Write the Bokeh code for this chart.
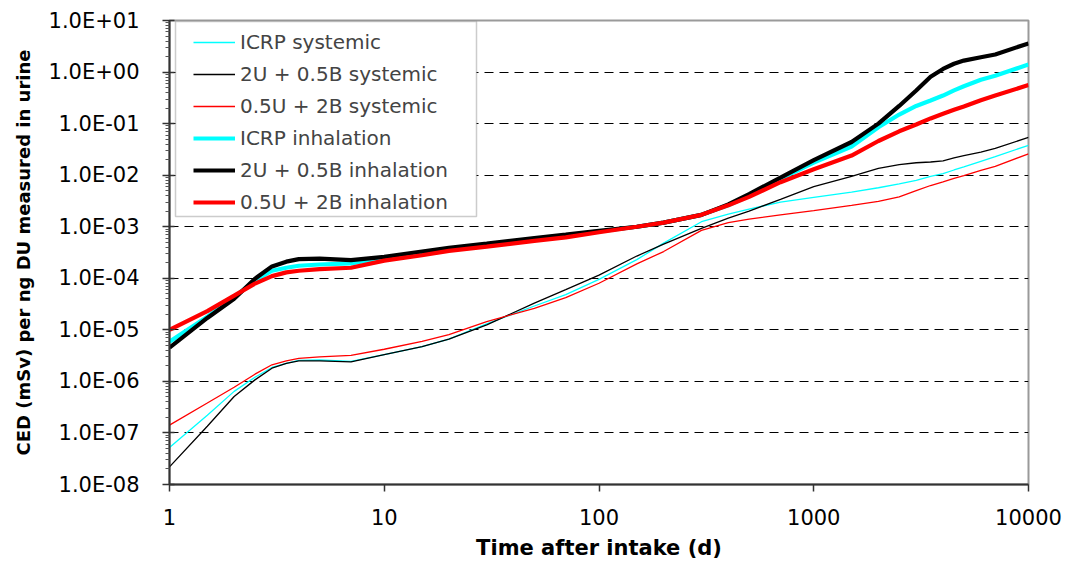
from bokeh.plotting import figure
from bokeh.models import Range1d, FixedTicker, CustomJSTickFormatter, Legend, LegendItem, BoxAnnotation
from bokeh.embed import file_html
from bokeh.resources import INLINE

days = [1, 1.5, 2, 2.5, 3, 3.5, 4, 5, 7, 10, 15, 20, 30, 50, 70, 100, 150, 200, 300, 400,
        500, 700, 1000, 1500, 2000, 2500, 3000, 3500, 4000, 4500, 5000, 6000, 7000, 10000]

icrp_systemic = [5.2e-8, 2.2e-7, 6.4e-7, 1.2e-6, 1.86e-6, 2.24e-6, 2.55e-6, 2.6e-6, 2.45e-6, 3.3e-6,
                 4.7e-6, 6.6e-6, 1.3e-5, 2.9e-5, 4.8e-5, 9.5e-5, 2.3e-4, 4.8e-4, 1.25e-3, 1.75e-3,
                 2.2e-3, 3.0e-3, 3.7e-3, 4.7e-3, 5.7e-3, 6.8e-3, 7.9e-3, 9.5e-3, 1.07e-2, 1.26e-2,
                 1.45e-2, 1.86e-2, 2.3e-2, 3.8e-2]
u2_systemic = [2.2e-8, 1.35e-7, 5.1e-7, 1.07e-6, 1.8e-6, 2.24e-6, 2.5e-6, 2.5e-6, 2.4e-6, 3.3e-6,
               4.7e-6, 6.6e-6, 1.25e-5, 3.3e-5, 6.0e-5, 1.15e-4, 2.7e-4, 4.6e-4, 9.3e-4, 1.47e-3,
               2.0e-3, 3.4e-3, 6.0e-3, 9.5e-3, 1.35e-2, 1.6e-2, 1.74e-2, 1.8e-2, 1.9e-2, 2.16e-2,
               2.4e-2, 2.8e-2, 3.3e-2, 5.4e-2]
u05_systemic = [1.42e-7, 3.8e-7, 7.7e-7, 1.38e-6, 2.1e-6, 2.5e-6, 2.8e-6, 3.0e-6, 3.2e-6, 4.2e-6,
                6.0e-6, 8.1e-6, 1.45e-5, 2.6e-5, 4.2e-5, 8.0e-5, 1.9e-4, 3.3e-4, 8.5e-4, 1.2e-3,
                1.4e-3, 1.7e-3, 2.05e-3, 2.6e-3, 3.1e-3, 3.8e-3, 5.0e-3, 6.3e-3, 7.4e-3, 8.7e-3,
                9.8e-3, 1.24e-2, 1.48e-2, 2.6e-2]
icrp_inhalation = [5.9e-6, 1.8e-5, 4.3e-5, 9.1e-5, 1.4e-4, 1.6e-4, 1.75e-4, 1.85e-4, 1.95e-4, 2.5e-4,
                   3.1e-4, 3.7e-4, 4.5e-4, 5.8e-4, 6.8e-4, 8.1e-4, 1.0e-3, 1.2e-3, 1.7e-3, 2.6e-3,
                   4.0e-3, 8.5e-3, 1.75e-2, 3.6e-2, 8.5e-2, 1.5e-1, 2.2e-1, 2.8e-1, 3.5e-1, 4.4e-1,
                   5.3e-1, 7.1e-1, 8.5e-1, 1.4]
u2_inhalation = [4.5e-6, 1.7e-5, 4.0e-5, 9.8e-5, 1.7e-4, 2.1e-4, 2.35e-4, 2.4e-4, 2.25e-4, 2.6e-4,
                 3.3e-4, 3.9e-4, 4.7e-4, 6.0e-4, 7.0e-4, 8.3e-4, 1.0e-3, 1.2e-3, 1.7e-3, 2.7e-3,
                 4.3e-3, 9.0e-3, 1.95e-2, 4.4e-2, 1.0e-1, 2.2e-1, 4.4e-1, 8.1e-1, 1.15, 1.45,
                 1.67, 1.94, 2.19, 3.6]
u05_inhalation = [1.0e-5, 2.3e-5, 4.6e-5, 7.9e-5, 1.1e-4, 1.3e-4, 1.4e-4, 1.5e-4, 1.6e-4, 2.2e-4,
                  2.8e-4, 3.4e-4, 4.1e-4, 5.3e-4, 6.2e-4, 7.8e-4, 1.0e-3, 1.2e-3, 1.7e-3, 2.6e-3,
                  3.8e-3, 7.3e-3, 1.3e-2, 2.4e-2, 4.6e-2, 7.1e-2, 9.6e-2, 1.26e-1, 1.55e-1, 1.85e-1,
                  2.15e-1, 2.85e-1, 3.5e-1, 5.6e-1]

series = [
    ("ICRP systemic", icrp_systemic, "#00FFFF", 1.3),
    ("2U + 0.5B systemic", u2_systemic, "#000000", 1.3),
    ("0.5U + 2B systemic", u05_systemic, "#FF0000", 1.3),
    ("ICRP inhalation", icrp_inhalation, "#00FFFF", 4.2),
    ("2U + 0.5B inhalation", u2_inhalation, "#000000", 4.2),
    ("0.5U + 2B inhalation", u05_inhalation, "#FF0000", 4.2),
]

x_ticks = [1, 10, 100, 1000, 10000]
y_ticks = [1e-8, 1e-7, 1e-6, 1e-5, 1e-4, 1e-3, 1e-2, 1e-1, 1e0, 1e1]

p = figure(width=1079, height=562, x_axis_type="log", y_axis_type="log",
           x_range=Range1d(1, 10000), y_range=Range1d(1e-8, 10),
           output_backend="svg", toolbar_location=None,
           min_border_left=169, min_border_right=51, min_border_top=20, min_border_bottom=75)

p.outline_line_color = "#9a9a9a"
p.outline_line_width = 2
p.background_fill_color = "white"
p.border_fill_color = "white"

FONT = "DejaVu Sans"

# x axis
p.xaxis.ticker = FixedTicker(ticks=x_ticks, minor_ticks=[])
p.xaxis.formatter = CustomJSTickFormatter(code="return tick.toFixed(0);")
p.xaxis.axis_label = "Time after intake (d)"
p.xaxis.axis_label_text_font = FONT
p.xaxis.axis_label_text_font_style = "bold"
p.xaxis.axis_label_text_font_size = "21px"
p.xaxis.axis_label_standoff = 8
p.xaxis.major_label_text_font = FONT
p.xaxis.major_label_text_font_size = "21px"
p.xaxis.major_label_standoff = 17
p.xaxis.major_tick_out = 7
p.xaxis.major_tick_in = 0

# y axis
minor = [m * d for d in y_ticks[:-1] for m in range(2, 10)]
p.yaxis.ticker = FixedTicker(ticks=y_ticks, minor_ticks=minor)
p.yaxis.formatter = CustomJSTickFormatter(code="""
const e = Math.round(Math.log10(tick));
const a = Math.abs(e);
return '1.0E' + (e < 0 ? '-' : '+') + (a < 10 ? '0' : '') + a;
""")
p.yaxis.axis_label = "CED (mSv) per ng DU measured in urine"
p.yaxis.axis_label_text_font = FONT
p.yaxis.axis_label_text_font_style = "bold"
p.yaxis.axis_label_text_font_size = "18px"
p.yaxis.axis_label_standoff = 12
p.yaxis.major_label_text_font = FONT
p.yaxis.major_label_text_font_size = "21px"
p.yaxis.major_label_standoff = 23
p.yaxis.major_tick_out = 7
p.yaxis.major_tick_in = 5
p.yaxis.minor_tick_out = 4
p.yaxis.minor_tick_in = 0

for ax in (p.xaxis, p.yaxis):
    ax.axis_line_color = "#333333"
    ax.axis_line_width = 2
    ax.major_tick_line_color = "#333333"
    ax.major_tick_line_width = 1.5
    ax.major_label_text_color = "black"
    ax.axis_label_text_color = "black"
p.xaxis.minor_tick_line_color = None
p.yaxis.minor_tick_line_color = "#555555"

p.xgrid.grid_line_color = None
p.ygrid.ticker = FixedTicker(ticks=y_ticks[1:-1])
p.ygrid.grid_line_color = "black"
p.ygrid.grid_line_width = 1
p.ygrid.grid_line_dash = "9 6"

items = []
for name, vals, color, w in series:
    r = p.line(days, vals, line_color=color, line_width=w)
    items.append(LegendItem(label=name, renderers=[r]))

box = BoxAnnotation(left=6, right=307, top=463, bottom=268,
                    left_units="screen", right_units="screen",
                    top_units="screen", bottom_units="screen",
                    fill_color="white", fill_alpha=1.0,
                    line_color="#555555", line_width=1.5)
p.add_layout(box)

legend = Legend(items=items, location=(24, 270), padding=5, spacing=8,
                label_height=24, glyph_height=24, glyph_width=42, label_standoff=5,
                label_text_font=FONT, label_text_font_size="20px",
                border_line_color=None, background_fill_alpha=0)
p.add_layout(legend)

open("out.html", "w").write(file_html(p, INLINE))
